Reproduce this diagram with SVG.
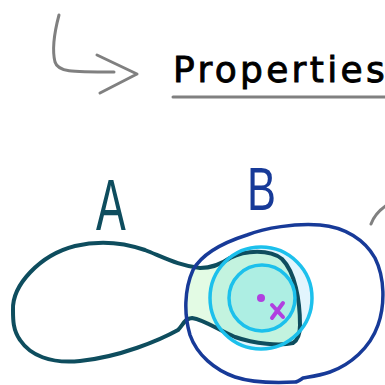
<svg xmlns="http://www.w3.org/2000/svg" width="385" height="385" viewBox="0 0 385 385">
  <style>
    .gray { fill: none; stroke: #808080; stroke-width: 3; stroke-linecap: round; stroke-linejoin: round; }
    .shapeA { fill: none; stroke: #0e4d5e; stroke-width: 4; stroke-linejoin: round; }
    .shapeB { fill: none; stroke: #173a98; stroke-width: 3.5; stroke-linejoin: round; }
    .cyan { fill: none; stroke: #1cc0ec; stroke-width: 3.5; }
    .purple { stroke: #b040e0; stroke-width: 4; stroke-linecap: round; fill: none; }
    .title { font-family: "DejaVu Sans", sans-serif; }
    .letter { font-family: "Liberation Sans", Arial, sans-serif; }
  </style>
  <defs>
    <path id="pathA" d="M 13,310 C 12,285 40,255 75,246 C 100,240 125,243 145,250 C 165,258 180,266 200,268 C 210,268 220,265 230,258 C 245,250 270,249 282,259 C 295,272 300,300 300,325 C 300,335 298,340 293,343 C 280,346 255,344 235,337 C 218,330 205,320 192,318 C 185,318 183,325 178,330 C 160,340 120,357 80,361 C 50,364 30,355 20,340 C 13,330 13,320 13,310 Z"/>
    <path id="pathB" d="M 247,235 C 265,228 295,223 320,225 C 345,227 365,240 375,258 C 385,278 385,305 378,325 C 370,348 350,365 330,372 C 318,376 308,377 303,378 C 300,380 298,382 295,382 C 275,383 250,382 235,377 C 215,370 197,355 190,335 C 184,315 184,290 193,270 C 203,252 225,242 247,235 Z"/>
    <clipPath id="clipB"><use href="#pathB"/></clipPath>
    <clipPath id="clipA"><use href="#pathA"/></clipPath>
  </defs>

  <g id="title">
    <path class="gray" d="M 59,15 C 55,30 52,50 55,62 C 58,72 70,72 114,72"/>
    <path class="gray" d="M 97,55 L 137,74 L 100,93"/>
    <text class="title" x="173" y="82" font-size="36" letter-spacing="3.3" fill="#000" stroke="#000" stroke-width="0.9">Properties</text>
    <line class="gray" x1="173" y1="97" x2="390" y2="97" stroke-width="3.5"/>
  </g>

  <g id="fills">
    <use href="#pathA" fill="#e3fbe4" clip-path="url(#clipB)"/>
    <circle cx="261" cy="298" r="51" fill="#e2f5fd"/>
    <circle cx="261" cy="298" r="51" fill="#c3f3df" clip-path="url(#clipA)"/>
    <circle cx="262" cy="298" r="33" fill="#adeee3"/>
  </g>

  <g id="nodeA">
    <use href="#pathA" class="shapeA"/>
    <text class="letter" x="0" y="0" font-size="72" fill="#0e4d5e" transform="translate(96,230) scale(0.62,1)">A</text>
  </g>

  <g id="nodeB">
    <use href="#pathB" class="shapeB"/>
    <text class="letter" x="0" y="0" font-size="62" fill="#173a98" transform="translate(247,210) scale(0.7,1)">B</text>
  </g>

  <g id="circles">
    <circle class="cyan" cx="261" cy="298" r="51"/>
    <circle class="cyan" cx="262" cy="298" r="33"/>
    <circle cx="261" cy="298" r="4" fill="#b040e0"/>
    <path class="purple" d="M 272,305 L 283,317 M 283,303 L 272,318"/>
  </g>

  <g id="connectors">
    <path class="gray" d="M 371,224 Q 375,213 387,205"/>
  </g>
</svg>
